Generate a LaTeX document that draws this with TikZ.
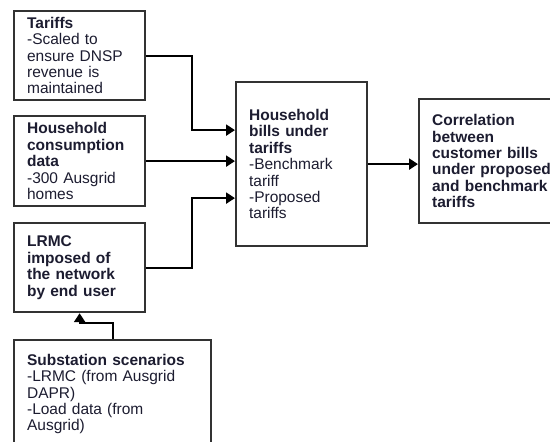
\documentclass[tikz,border=0pt]{standalone}
\usepackage{fontspec}
\setmainfont{Liberation Sans}
\usetikzlibrary{arrows.meta}
\definecolor{txtcol}{RGB}{28,28,48}
\definecolor{boxcol}{RGB}{50,50,50}

\begin{document}
\begin{tikzpicture}[x=1pt, y=-1pt,
		box/.style={draw=boxcol, line width=2.2pt, anchor=north west, align=left,
			inner xsep=13pt, inner ysep=0pt, text=txtcol,
			font=\fontsize{15.5}{16.4}\selectfont},
		flow/.style={line width=2.2pt, -{Triangle[length=9pt, width=11pt]}}]
		\useasboundingbox (0,0) rectangle (550,442);
		\clip (0,0) rectangle (550,442);
		% input boxes on the left
		\node [box, text width=105pt, minimum height=89pt] (tariffs) at (13,10)
			{\textbf{Tariffs}\\-Scaled to\\ensure DNSP\\revenue is\\maintained};
		\node [box, text width=105pt, minimum height=90pt] (house) at (13,115)
			{\textbf{Household}\\\textbf{consumption}\\\textbf{data}\\-300 Ausgrid\\homes};
		\node [box, text width=105pt, minimum height=89pt] (lrmc) at (13,222)
			{\textbf{LRMC}\\\textbf{imposed of}\\\textbf{the network}\\\textbf{by end user}};
		\node [box, text width=171pt, inner ysep=14pt] (sub) at (13,339)
			{\textbf{Substation scenarios}\\-LRMC (from Ausgrid\\DAPR)\\-Load data (from\\Ausgrid)\\[6pt]};
		% middle and right boxes
		\node [box, text width=105pt, minimum height=164pt] (bills) at (235,81)
			{\textbf{Household}\\\textbf{bills under}\\\textbf{tariffs}\\-Benchmark\\tariff\\-Proposed\\tariffs};
		\node [box, text width=130pt, minimum height=124pt] (corr) at (418,98)
			{\textbf{Correlation}\\\textbf{between}\\\textbf{customer bills}\\\textbf{under proposed}\\\textbf{and benchmark}\\\textbf{tariffs}\\[10pt]};
		% connectors
		\draw [flow] (tariffs.east) -- ++(46,0) |- ([yshift=34pt]bills.west);
		\draw [flow] (house.east) -- (house.east -| bills.west);
		\draw [flow] (lrmc.east) -- ++(46,0) |- ([yshift=-34pt]bills.west);
		\draw [flow] (bills.east) -- (bills.east -| corr.west);
		\draw [flow] (sub.north) -- ++(0,-16) -| (lrmc.south);
	\end{tikzpicture}
\end{document}
